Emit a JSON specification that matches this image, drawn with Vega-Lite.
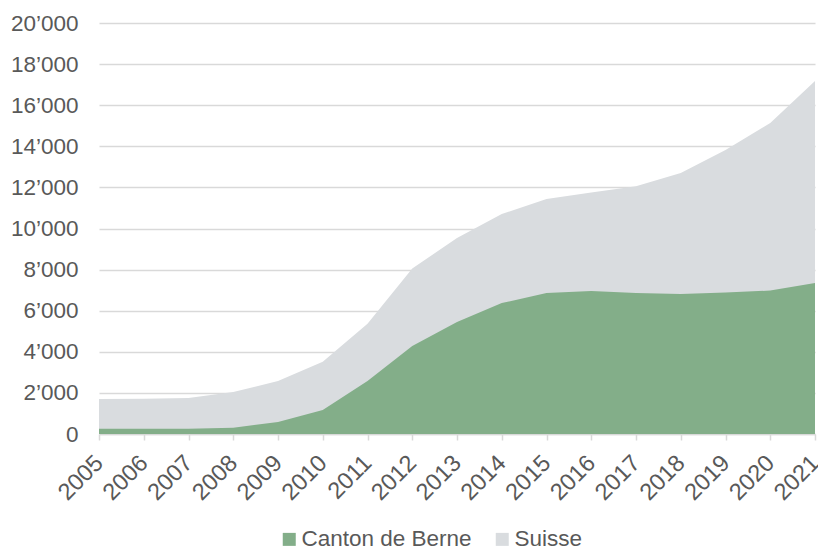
{
  "$schema": "https://vega.github.io/schema/vega-lite/v6.json",
  "autosize": {"type": "none"},
  "width": 716,
  "height": 411,
  "padding": {"left": 99, "top": 23, "right": 3, "bottom": 114},
  "background": "white",
  "config": {
    "view": {"stroke": null},
    "font": "Liberation Sans",
    "axis": {"labelColor": "#595959", "labelFont": "Liberation Sans", "title": null}
  },
  "data": {
    "values": [
      {"year": 2005, "region": "Suisse", "value": 1700},
      {"year": 2006, "region": "Suisse", "value": 1710},
      {"year": 2007, "region": "Suisse", "value": 1750},
      {"year": 2008, "region": "Suisse", "value": 2040},
      {"year": 2009, "region": "Suisse", "value": 2580},
      {"year": 2010, "region": "Suisse", "value": 3520},
      {"year": 2011, "region": "Suisse", "value": 5370},
      {"year": 2012, "region": "Suisse", "value": 8050},
      {"year": 2013, "region": "Suisse", "value": 9540},
      {"year": 2014, "region": "Suisse", "value": 10700},
      {"year": 2015, "region": "Suisse", "value": 11440},
      {"year": 2016, "region": "Suisse", "value": 11750},
      {"year": 2017, "region": "Suisse", "value": 12050},
      {"year": 2018, "region": "Suisse", "value": 12700},
      {"year": 2019, "region": "Suisse", "value": 13820},
      {"year": 2020, "region": "Suisse", "value": 15130},
      {"year": 2021, "region": "Suisse", "value": 17180},
      {"year": 2005, "region": "Canton de Berne", "value": 250},
      {"year": 2006, "region": "Canton de Berne", "value": 250},
      {"year": 2007, "region": "Canton de Berne", "value": 260},
      {"year": 2008, "region": "Canton de Berne", "value": 310},
      {"year": 2009, "region": "Canton de Berne", "value": 580},
      {"year": 2010, "region": "Canton de Berne", "value": 1170},
      {"year": 2011, "region": "Canton de Berne", "value": 2580},
      {"year": 2012, "region": "Canton de Berne", "value": 4280},
      {"year": 2013, "region": "Canton de Berne", "value": 5450},
      {"year": 2014, "region": "Canton de Berne", "value": 6370},
      {"year": 2015, "region": "Canton de Berne", "value": 6860},
      {"year": 2016, "region": "Canton de Berne", "value": 6960},
      {"year": 2017, "region": "Canton de Berne", "value": 6860},
      {"year": 2018, "region": "Canton de Berne", "value": 6810},
      {"year": 2019, "region": "Canton de Berne", "value": 6880},
      {"year": 2020, "region": "Canton de Berne", "value": 6980},
      {"year": 2021, "region": "Canton de Berne", "value": 7350}
    ]
  },
  "encoding": {
    "x": {
      "field": "year",
      "type": "quantitative",
      "scale": {"domain": [2005, 2021], "nice": false, "zero": false},
      "axis": {
        "values": [2005, 2006, 2007, 2008, 2009, 2010, 2011, 2012, 2013, 2014, 2015, 2016, 2017, 2018, 2019, 2020, 2021],
        "format": "d",
        "labelAngle": -45,
        "labelAlign": "right",
        "labelBaseline": "middle",
        "labelFontSize": 23.5,
        "labelPadding": 19,
        "labelOverlap": false,
        "labelFlush": false,
        "grid": false,
        "domainColor": "#d9d9d9",
        "domainWidth": 1.5,
        "tickColor": "#d9d9d9",
        "tickWidth": 1.5,
        "tickSize": 6
      }
    },
    "y": {
      "field": "value",
      "type": "quantitative",
      "stack": null,
      "scale": {"domain": [0, 20000], "nice": false},
      "axis": {
        "values": [0, 2000, 4000, 6000, 8000, 10000, 12000, 14000, 16000, 18000, 20000],
        "labelExpr": "replace(format(datum.value, ','), ',', '’')",
        "labelFontSize": 22.5,
        "labelPadding": 21,
        "ticks": false,
        "domain": false,
        "grid": true,
        "gridColor": "#d9d9d9",
        "gridWidth": 1.5
      }
    },
    "color": {
      "field": "region",
      "type": "nominal",
      "scale": {"domain": ["Canton de Berne", "Suisse"], "range": ["#83ae89", "#d9dcdf"]},
      "legend": {
        "title": null,
        "orient": "none",
        "direction": "horizontal",
        "legendX": 179,
        "legendY": 505,
        "symbolType": "square",
        "symbolSize": 169,
        "symbolStrokeWidth": 0,
        "symbolOpacity": 1,
        "labelFontSize": 22.5,
        "labelLimit": 400,
        "labelColor": "#595959",
        "labelOffset": 1,
        "columnPadding": 19
      }
    }
  },
  "layer": [
    {
      "transform": [{"filter": "datum.region === 'Suisse'"}],
      "mark": {"type": "area", "opacity": 1}
    },
    {
      "transform": [{"filter": "datum.region === 'Canton de Berne'"}],
      "mark": {"type": "area", "opacity": 1}
    }
  ]
}
